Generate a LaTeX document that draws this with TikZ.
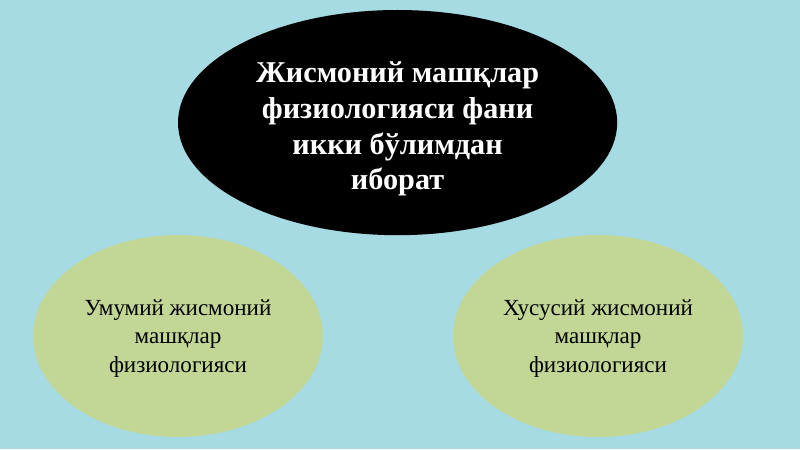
\documentclass[tikz,border=0pt]{standalone}
\usepackage{fontspec}
\setmainfont{Liberation Serif}
\usetikzlibrary{positioning}
\usetikzlibrary{shapes.geometric}
\usepackage{xcolor}
\definecolor{skyback}{RGB}{166,219,227}
\definecolor{leafgreen}{RGB}{194,215,150}

\begin{document}
\begin{tikzpicture}[scale=1]

\fill[skyback] (0,0) rectangle (20,11.225);
\useasboundingbox (0,0) rectangle (20,11.225);

\node[ellipse, fill=black, inner sep=0pt, minimum width=10.98cm, minimum height=5.63cm] (topoval) at (9.94,8.16) {};
\node[align=center, text=white, font=\fontsize{21.5}{25.5}\selectfont\bfseries, yshift=-0.16cm] (toptext) at (topoval.center) {Жисмоний машқлар\\физиологияси фани\\икки бўлимдан\\иборат};

\node[ellipse, fill=leafgreen, inner sep=0pt, minimum width=7.25cm, minimum height=5.05cm] (leftoval) at (4.45,2.825) {};
\node[align=center, font=\fontsize{16.4}{20.2}\selectfont, yshift=-0.06cm] (lefttext) at (leftoval.center) {Умумий жисмоний\\машқлар\\физиологияси};

\node[ellipse, fill=leafgreen, inner sep=0pt, minimum width=7.25cm, minimum height=5.05cm] (rightoval) at (14.95,2.825) {};
\node[align=center, font=\fontsize{16.4}{20.2}\selectfont, yshift=-0.06cm] (righttext) at (rightoval.center) {Хусусий жисмоний\\машқлар\\физиологияси};

\end{tikzpicture}
\end{document}
